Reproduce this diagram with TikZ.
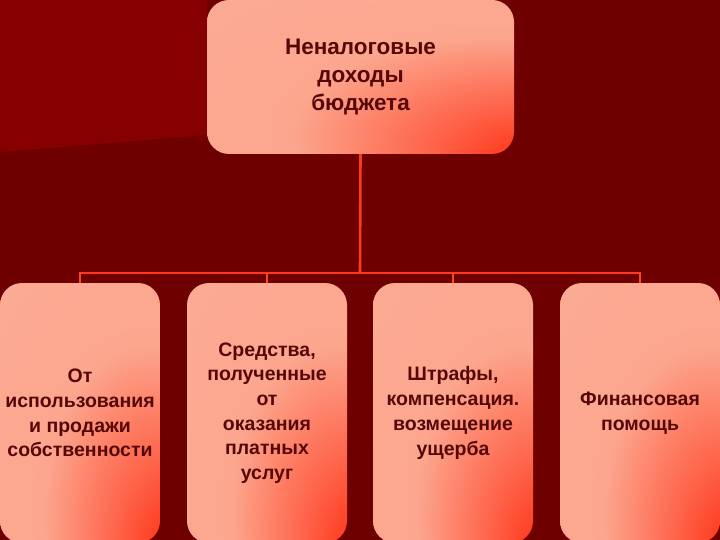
\documentclass[tikz,border=0pt]{standalone}
\usepackage{fontspec}
\setmainfont{Liberation Sans}
\definecolor{bgdark}{HTML}{6E0000}
\definecolor{bglight}{HTML}{870000}
\definecolor{salm}{HTML}{FCA68E}
\definecolor{pinkl}{HTML}{F9B8AB}
\definecolor{hot}{HTML}{FF3014}
\definecolor{wire}{HTML}{FF3A1A}
\definecolor{txt}{HTML}{560808}
\pgfdeclareradialshading{boxshade}{\pgfpoint{36bp}{-33bp}}{%
  color(0bp)=(hot); color(6bp)=(hot);
  color(17bp)=(hot!55!salm); color(32bp)=(salm);
  color(55bp)=(salm!70!pinkl); color(75bp)=(pinkl)}
\tikzset{
  box/.style={rectangle, rounded corners=22pt, shade, shading=boxshade,
    text=txt, align=center, inner sep=0pt},
  conn/.style={draw=wire, line width=2.6pt},
}
\begin{document}
\begin{tikzpicture}[x=1pt,y=-1pt]
\useasboundingbox (0,0) rectangle (720,540);
\clip (0,0) rectangle (720,540);
\fill[bgdark] (0,0) rectangle (720,540);
\fill[bglight] (0,0) -- (207,0) -- (207,135) -- (0,152) -- cycle;

\node[box, minimum width=307pt, minimum height=154pt,
  font=\fontsize{22.5pt}{28pt}\selectfont\bfseries] (top) at (360.5,77)
  {Неналоговые\\доходы\\бюджета};

\tikzset{bstyle/.style={box, minimum width=160pt, minimum height=260pt,
  font=\fontsize{19.5pt}{24.7pt}\selectfont\bfseries}}
\node[bstyle] (b1) at (80,413) {От\\использования\\и продажи\\собственности};
\node[bstyle] (b2) at (267,413) {Средства,\\полученные\\от\\оказания\\платных\\услуг};
\node[bstyle] (b3) at (453,413) {Штрафы,\\компенсация.\\возмещение\\ущерба};
\node[bstyle] (b4) at (640,413) {Финансовая\\помощь};

\coordinate (bus) at (360,273);
\draw[conn] (top.south) -- (bus);
\draw[conn, line cap=rect] (b1.north |- bus) -- (b4.north |- bus);
\foreach \b in {b1,b2,b3,b4}
  \draw[draw=wire!80!orange, line width=2pt] (\b.north |- bus) -- (\b.north);
\end{tikzpicture}
\end{document}
